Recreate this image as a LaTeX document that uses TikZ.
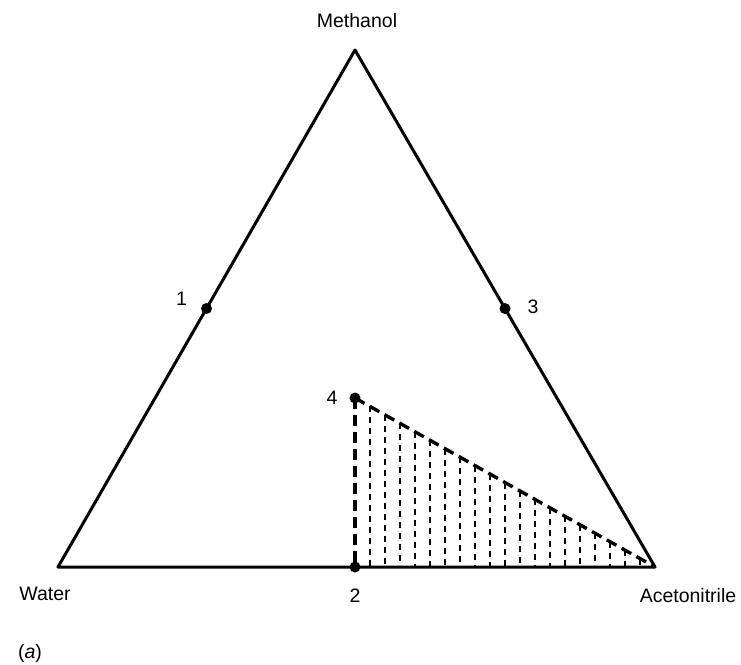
\documentclass[tikz,border=0pt]{standalone}
\usepackage{fontspec}
\setmainfont{Liberation Sans}
\usetikzlibrary{calc}
\begin{document}
\begin{tikzpicture}[x=1pt,y=-1pt,
  edge/.style={line width=3pt,line join=round},
  dot/.style={circle,fill=black,inner sep=0pt,minimum size=11pt},
  lbl/.style={font=\fontsize{19.5}{22}\selectfont,inner sep=0pt},
  bigdash/.style={line width=3.4pt,dash pattern=on 11pt off 6pt},
  hatch/.style={line width=2pt,dash pattern=on 6pt off 5pt}]
\useasboundingbox (0,0) rectangle (741,664);
\coordinate (T) at (355,50);
\coordinate (W) at (58,567);
\coordinate (A) at (655,567);
\coordinate (p2) at (355,567);
\coordinate (p4) at (355,398);
% hatching
\foreach \k in {1,...,19}
  \draw[hatch] ($(p4)!\k/20!(A)$) -- ($(p2)!\k/20!(A)$);
\draw[bigdash] (p4) -- (p2);
\draw[bigdash] (p4) -- (A);
\draw[edge] (T) -- (W) -- (A) -- cycle;
\node[dot] (d1) at ($(W)!0.5!(T)$) {};
\node[dot] (d3) at ($(T)!0.5!(A)$) {};
\node[dot] (d2) at (p2) {};
\node[dot] (d4) at (p4) {};
\node[lbl] (l1) at ($(d1)+(-25,-10)$) {1};
\node[lbl] (l3) at ($(d3)+(28,-2)$) {3};
\node[lbl] (l4) at ($(d4)+(-23,0)$) {4};
\node[lbl] (l2) at ($(d2)+(0,29)$) {2};
\node[lbl] (lm) at (357,21) {Methanol};
\node[lbl] (lw) at (45,594) {Water};
\node[lbl] (la) at (688,596) {Acetonitrile};
\node[lbl] (lfig) at (30,653) {(\textit{a})};
\end{tikzpicture}
\end{document}
